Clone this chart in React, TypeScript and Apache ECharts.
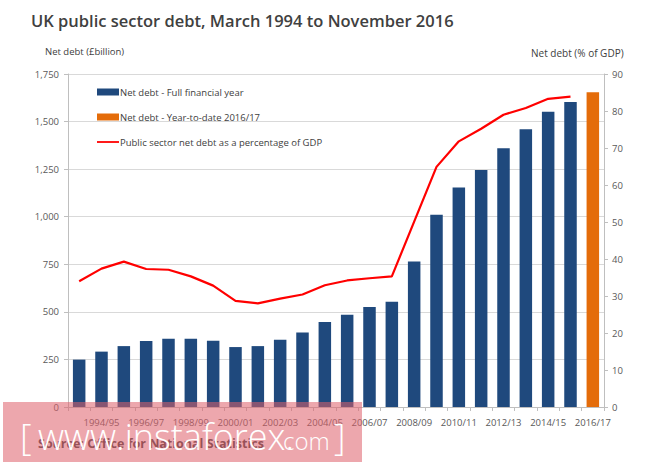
import React, { useEffect, useRef } from "react";
import * as echarts from "echarts";

const categories = [
  "1993/94", "1994/95", "1995/96", "1996/97", "1997/98", "1998/99",
  "1999/00", "2000/01", "2001/02", "2002/03", "2003/04", "2004/05",
  "2005/06", "2006/07", "2007/08", "2008/09", "2009/10", "2010/11",
  "2011/12", "2012/13", "2013/14", "2014/15", "2015/16", "2016/17",
];

// Net debt, full financial year (£ billion)
const fullYearDebt = [
  249, 291, 320, 347, 359, 359, 348, 315, 320, 354, 392, 447,
  485, 525, 553, 765, 1010, 1153, 1246, 1360, 1460, 1551, 1603,
];

// Net debt, year-to-date 2016/17 (£ billion)
const ytdDebt = 1654;

// Public sector net debt as % of GDP
const debtPctGdp = [
  34.0, 37.4, 39.3, 37.3, 37.1, 35.3, 32.8, 28.7, 28.0, 29.3, 30.4, 32.9,
  34.2, 34.8, 35.3, 50.1, 64.9, 71.8, 75.2, 79.0, 80.8, 83.3, 83.9,
];

const leftTicks = { min: 0, max: 1750, interval: 250 };
const rightTicks = { min: 0, max: 90, interval: 10 };

const FONT = "Open Sans";

export default function App() {
  const ref = useRef<HTMLDivElement>(null);

  useEffect(() => {
    if (!ref.current) return;
    const chart = echarts.init(ref.current, null, { renderer: "svg" });

    const fullData = categories.map((_, i) =>
      i < fullYearDebt.length ? fullYearDebt[i] : "-"
    );
    const ytdData = categories.map((_, i) =>
      i === categories.length - 1 ? ytdDebt : "-"
    );
    const pctData = categories.map((_, i) =>
      i < debtPctGdp.length ? debtPctGdp[i] : "-"
    );

    const labelColor = "#595959";
    const axisColor = "#bfbfbf";

    chart.setOption({
      animation: false,
      backgroundColor: "#ffffff",
      textStyle: { fontFamily: FONT },
      grid: { left: 68, right: 61, top: 74, bottom: 58 },
      legend: {
        orient: "vertical",
        left: 97,
        top: 85,
        padding: 0,
        itemWidth: 22,
        itemHeight: 7,
        itemGap: 11,
        textStyle: {
          fontFamily: FONT,
          fontSize: 9.5,
          color: "#404040",
          lineHeight: 14,
          padding: [0, 0, 0, -4],
        },
        data: [
          { name: "Net debt - Full financial year", icon: "rect" },
          { name: "Net debt - Year-to-date 2016/17", icon: "rect" },
          {
            name: "Public sector net debt as a percentage of GDP",
            icon: "path://M0,0 L0,0 M0,2.6 L22,2.6 L22,4.4 L0,4.4 Z M22,7 L22,7",
            itemStyle: { color: "#ff0000" },
          },
        ],
      },
      xAxis: {
        type: "category",
        data: categories,
        boundaryGap: true,
        axisLine: { lineStyle: { color: axisColor } },
        axisTick: {
          show: true,
          interval: 0,
          length: 4,
          lineStyle: { color: axisColor },
        },
        axisLabel: {
          interval: (index: number) => index % 2 === 1,
          color: labelColor,
          fontFamily: FONT,
          fontSize: 9.5,
          margin: 10,
        },
      },
      yAxis: [
        {
          type: "value",
          min: leftTicks.min,
          max: leftTicks.max,
          interval: leftTicks.interval,
          axisLine: { show: true, lineStyle: { color: axisColor } },
          axisTick: { show: true, length: 4, lineStyle: { color: axisColor } },
          splitLine: { show: true, lineStyle: { color: "#d9d9d9" } },
          axisLabel: {
            color: labelColor,
            fontFamily: FONT,
            fontSize: 9.5,
            margin: 9,
            formatter: (v: number) => v.toLocaleString("en-GB"),
          },
        },
        {
          type: "value",
          min: rightTicks.min,
          max: rightTicks.max,
          interval: rightTicks.interval,
          position: "right",
          axisLine: { show: true, lineStyle: { color: axisColor } },
          axisTick: { show: true, length: 4, lineStyle: { color: axisColor } },
          splitLine: { show: false },
          axisLabel: {
            color: labelColor,
            fontFamily: FONT,
            fontSize: 9.5,
            margin: 8,
          },
        },
      ],
      series: [
        {
          name: "Net debt - Full financial year",
          type: "bar",
          stack: "debt",
          barWidth: "56%",
          itemStyle: { color: "#1f497d" },
          data: fullData,
        },
        {
          name: "Net debt - Year-to-date 2016/17",
          type: "bar",
          stack: "debt",
          barWidth: "56%",
          itemStyle: { color: "#e46c0a" },
          data: ytdData,
        },
        {
          name: "Public sector net debt as a percentage of GDP",
          type: "line",
          yAxisIndex: 1,
          symbol: "none",
          lineStyle: { color: "#ff0000", width: 2.2 },
          itemStyle: { color: "#ff0000" },
          data: pctData,
          z: 5,
        },
      ],
      graphic: [
        {
          type: "text",
          left: 31,
          top: 12,
          style: {
            text: "UK public sector debt, March 1994 to November 2016",
            font: `600 16.5px "${FONT}"`,
            fill: "#404040",
          },
        },
        {
          type: "text",
          left: 45,
          top: 46,
          style: {
            text: "Net debt (£billion)",
            font: `9.5px "${FONT}"`,
            fill: "#404040",
          },
        },
        {
          type: "text",
          left: 531,
          top: 48,
          style: {
            text: "Net debt (% of GDP)",
            font: `10px "${FONT}"`,
            fill: "#404040",
          },
        },
        {
          type: "text",
          left: 38,
          top: 437,
          z: 50,
          style: {
            text: "Source: Office for National Statistics",
            font: `bold 12.5px "${FONT}"`,
            fill: "#404040",
          },
        },
        {
          type: "rect",
          z: 100,
          shape: { x: 3, y: 402, width: 359, height: 60 },
          style: { fill: "rgba(222, 95, 105, 0.55)" },
        },
        {
          type: "text",
          x: 20,
          y: 436,
          z: 101,
          style: {
            text: "[",
            font: `300 36px "${FONT}"`,
            fill: "#ffffff",
            verticalAlign: "middle",
          },
        },
        {
          type: "text",
          x: 38,
          y: 436,
          z: 101,
          style: {
            text: "www.instaforex.",
            font: `300 36px "${FONT}"`,
            fill: "#ffffff",
            verticalAlign: "middle",
          },
        },
        {
          type: "text",
          x: 283,
          y: 440,
          z: 101,
          style: {
            text: "com",
            font: `300 24px "${FONT}"`,
            fill: "#ffffff",
            verticalAlign: "middle",
          },
        },
        {
          type: "text",
          x: 334,
          y: 436,
          z: 101,
          style: {
            text: "]",
            font: `300 36px "${FONT}"`,
            fill: "#ffffff",
            verticalAlign: "middle",
          },
        },
      ],
    });

    return () => chart.dispose();
  }, []);

  return (
    <div
      ref={ref}
      style={{ position: "fixed", left: 0, top: 0, width: 665, height: 465 }}
    />
  );
}
